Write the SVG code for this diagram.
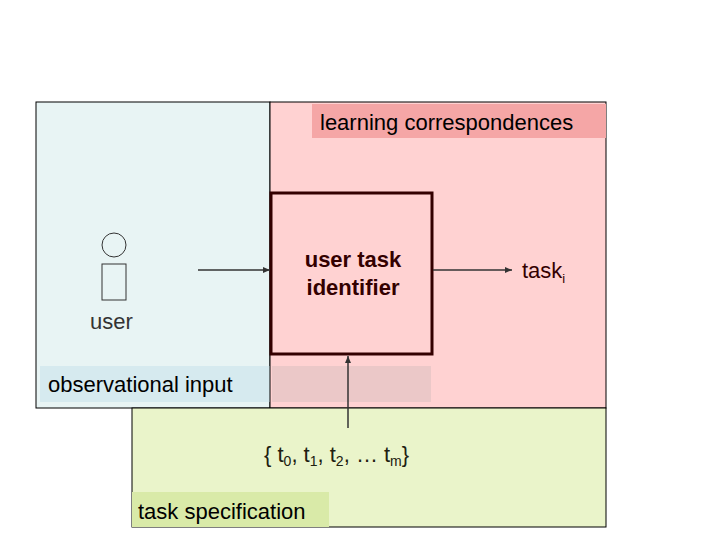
<svg xmlns="http://www.w3.org/2000/svg" width="720" height="540" viewBox="0 0 720 540">
<style>
text{font-family:"Liberation Sans",Arial,sans-serif;font-size:22px}
.ln{stroke:#333;stroke-width:1.5;fill:none}
</style>
<defs><marker id="ah" markerWidth="8" markerHeight="8" refX="7" refY="4" orient="auto" markerUnits="userSpaceOnUse"><path d="M0,1 L7,4 L0,7Z" fill="#333"/></marker></defs>
<rect width="720" height="540" fill="#fff"/>
<g id="observational">
<rect x="36" y="102" width="234" height="306" fill="#e8f4f4" stroke="#000" stroke-width="1"/>
<rect x="40" y="366" width="230" height="36" fill="#d6eaef"/>
<text x="48" y="392">observational input</text>
</g>
<g id="learning">
<rect x="270" y="102" width="336" height="306" fill="#ffd2d2" stroke="#000" stroke-width="1"/>
<rect x="312" y="104" width="294" height="34" fill="#f5a6a6"/>
<text x="320" y="130">learning correspondences</text>
<rect x="272" y="366" width="159" height="36" fill="#ebc8c8"/>
</g>
<g id="taskspec">
<rect x="132" y="408" width="474" height="119" fill="#eaf4ca" stroke="#000" stroke-width="1"/>
<rect x="132" y="492" width="197" height="35" fill="#d9eaa8"/>
<text x="138" y="519">task specification</text>
<text x="264" y="462" fill="#202010">{ t<tspan font-size="14" dy="4">0</tspan><tspan dy="-4">, t</tspan><tspan font-size="14" dy="4">1</tspan><tspan dy="-4">, t</tspan><tspan font-size="14" dy="4">2</tspan><tspan dy="-4">, … t</tspan><tspan font-size="14" dy="4">m</tspan><tspan dy="-4">}</tspan></text>
</g>
<g id="user">
<circle cx="114" cy="245" r="12" fill="none" stroke="#333"/>
<rect x="102" y="264" width="24" height="36" fill="none" stroke="#333"/>
<text x="90" y="329" fill="#333">user</text>
</g>
<g id="identifier">
<rect x="271" y="193" width="161" height="161" fill="#ffd2d2" stroke="#300" stroke-width="3"/>
<text x="353" y="267" text-anchor="middle" font-weight="bold" fill="#300">user task</text>
<text x="353" y="295" text-anchor="middle" font-weight="bold" fill="#300">identifier</text>
</g>
<g id="task">
<text x="522" y="278" fill="#300">task<tspan font-size="13" dy="5">i</tspan></text>
</g>
<g id="connectors">
<line class="ln" x1="198" y1="270" x2="270" y2="270" marker-end="url(#ah)"/>
<line class="ln" x1="433" y1="270" x2="512" y2="270" stroke="#300" marker-end="url(#ah)"/>
<line class="ln" x1="348" y1="428" x2="348" y2="356" stroke="#300" marker-end="url(#ah)"/>
</g>
</svg>
